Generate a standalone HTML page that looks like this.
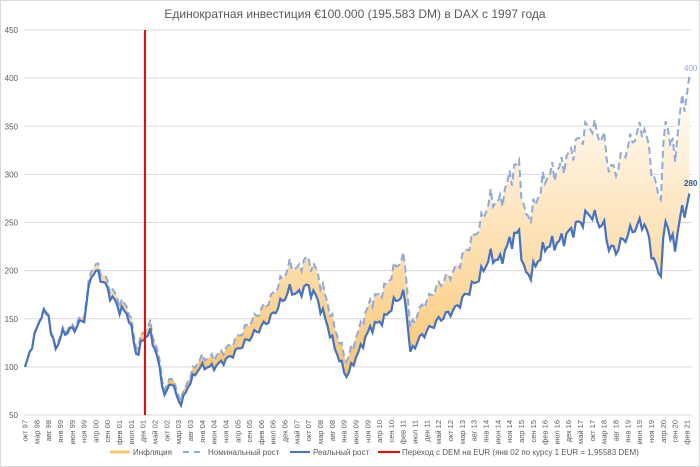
<!DOCTYPE html>
<html><head><meta charset="utf-8"><style>
body{margin:0;background:#fff;}
svg{display:block;font-family:"Liberation Sans","Noto Sans CJK SC",sans-serif;}
</style></head><body>
<svg id="s" width="700" height="467" xmlns="http://www.w3.org/2000/svg">
<defs><linearGradient id="g" gradientUnits="userSpaceOnUse" x1="0" y1="400" x2="0" y2="70">
<stop offset="0" stop-color="#f9bf5e"/><stop offset="0.35" stop-color="#fcd9a0"/><stop offset="1" stop-color="#ffffff"/></linearGradient></defs>
<rect x="0.5" y="0.5" width="699" height="466" fill="#fff" stroke="#d9d9d9"/>
<text x="355" y="18" text-anchor="middle" font-size="12" fill="#595959">Единократная инвестиция €100.000 (195.583 DM) в DAX с 1997 года</text>
<g id="grid" stroke="#d9d9d9" stroke-width="1"></g>
<g id="ylab" font-size="8" fill="#595959" text-anchor="end"></g>
<g id="xlab" font-size="7.5" fill="#595959"></g>
<path id="fill" fill="url(#g)"/>
<path id="nom" fill="none" stroke="#8faadc" stroke-width="2" stroke-dasharray="7,4"/>
<path id="real" fill="none" stroke="#4472c4" stroke-width="2.2"/>
<line x1="145" y1="30" x2="145" y2="415" stroke="#ff0000" stroke-width="2"/>
<text x="684" y="71" font-size="8" fill="#8faadc">400</text>
<text x="684" y="186" font-size="8" fill="#2f5597" font-weight="bold">280</text>
<g font-size="8" fill="#595959">
<line x1="110" y1="452" x2="130" y2="452" stroke="#fbc86f" stroke-width="3"/><text x="133" y="455">Инфляция</text>
<line x1="183" y1="452" x2="203" y2="452" stroke="#8faadc" stroke-width="2" stroke-dasharray="6,5"/><text x="208" y="455">Номинальный рост</text>
<line x1="290" y1="452" x2="310" y2="452" stroke="#4472c4" stroke-width="2"/><text x="313" y="455">Реальный рост</text>
<line x1="378" y1="452" x2="400" y2="452" stroke="#ff0000" stroke-width="2"/><text x="402" y="455">Переход с DEM на EUR (янв 02 по курсу 1 EUR = 1,95583  DEM)</text>
</g>
</svg>
<script>
var NS="http://www.w3.org/2000/svg";
function Y(v){return 415-(v-50)*0.9625;}
function X(m){return 25+m*2.364;}
var g=document.getElementById('grid'),yl=document.getElementById('ylab'),xl=document.getElementById('xlab');
for(var v=50;v<=450;v+=50){var l=document.createElementNS(NS,'line');l.setAttribute('x1',24);l.setAttribute('x2',692);l.setAttribute('y1',Y(v));l.setAttribute('y2',Y(v));g.appendChild(l);
var t=document.createElementNS(NS,'text');t.setAttribute('x',18);t.setAttribute('y',Y(v)+3);t.textContent=v;yl.appendChild(t);}
var mn=['янв','фев','мар','апр','май','июн','июл','авг','сен','окт','ноя','дек'];
for(var i=0;i<=56;i++){var mi=9+i*5;var mo=mi%12;var yr=(97+Math.floor(mi/12))%100;var s=mn[mo]+' '+(yr<10?'0'+yr:yr);
var x=X(i*5);var t=document.createElementNS(NS,'text');t.setAttribute('transform','translate('+(x+2.5)+',420) rotate(-90)');t.setAttribute('text-anchor','end');t.textContent=s;xl.appendChild(t);}
var k=[[0,100],[7,155],[10,155],[11.4,128],[13,120],[16,135],[21,140],[25,150],[28.3,200],[31.7,195],[36,175],[40,160],[43.6,155],[47.4,110],[50,130],[53,135],[56,110],[59,70],[62,85],[65.6,60],[70,85],[74,100],[80,100],[86.7,110],[95,130],[103.6,150],[112,180],[116,175],[118.4,185],[122.7,175],[127,150],[131,120],[136,90],[142,120],[146,140],[152,150],[157,170],[160.7,175],[163,115],[167,130],[175.5,150],[182,160],[188,180],[192.6,195],[196.7,215],[201,210],[205,230],[209,240],[211,200],[213.6,195],[220,225],[226,230],[230.5,240],[234.7,250],[239,260],[243,250],[245,245],[247,225],[249.6,220],[254,235],[258,245],[262,250],[265,220],[268.6,190],[270.7,250],[273,240],[275,220],[277,260],[279,255],[281,280]];
function val(m){for(var i=0;i<k.length-1;i++){if(m>=k[i][0]&&m<=k[i+1][0]){var a=k[i],b=k[i+1];return a[1]+(b[1]-a[1])*(m-a[0])/(b[0]-a[0]);}}return k[k.length-1][1];}
var R=[],N=[];
for(var m=0;m<=281;m++){var v=val(m);var j=(m>2&&m<279)?(Math.sin(m*1.7)*0.025+Math.sin(m*3.1+1)*0.018)*v:0;v+=j;var f=1+0.0011*m+0.0000016*m*m;R.push([X(m),Y(v)]);N.push([X(m),Y(v*f)]);}
function p(a){return a.map(function(q,i){return (i?'L':'M')+q[0].toFixed(1)+','+q[1].toFixed(1);}).join('');}
document.getElementById('real').setAttribute('d',p(R));
document.getElementById('nom').setAttribute('d',p(N));
document.getElementById('fill').setAttribute('d',p(N)+p(R.slice().reverse()).replace('M','L')+'Z');
</script>
</body></html>
